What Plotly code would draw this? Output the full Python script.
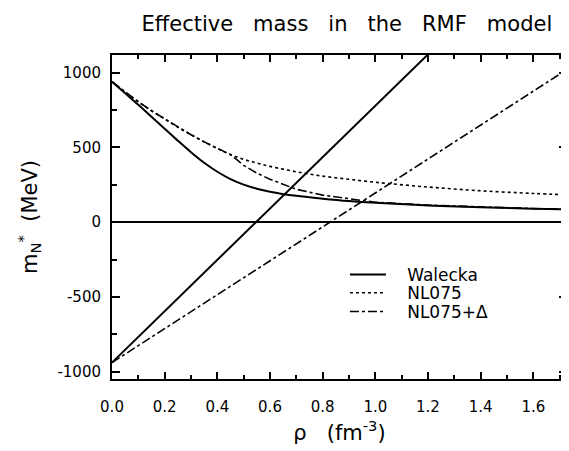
import plotly.graph_objects as go

# density grid (fm^-3)
density = [0.0, 0.05, 0.1, 0.15, 0.2, 0.25, 0.3, 0.35, 0.4, 0.45, 0.5, 0.55,
           0.6, 0.7, 0.8, 0.9, 1.0, 1.2, 1.4, 1.6, 1.72]

# effective nucleon mass (MeV)
walecka = [939, 862, 785, 705, 625, 545, 468, 397, 337, 288, 251, 224,
           204, 176, 157, 141, 129, 112, 100, 90, 85]
nl075 = [939, 870, 805, 745, 690, 635, 585, 537, 492, 452, 420, 395,
         373, 337, 308, 287, 267, 235, 210, 192, 183]
nl075_delta = [939, 870, 805, 745, 690, 635, 585, 537, 492, 452, 380, 328,
               287, 220, 181, 155, 133, 114, 101, 91, 86]

# straight lines
line_x = [0.0, 0.4, 0.8, 1.2, 1.6, 1.72]
line_walecka = [-939, -252, 435, 1122, 1809, 2015]
line_delta = [-939, -485, -32, 422, 875, 1012]

# tick labels
x_ticks = [0.0, 0.2, 0.4, 0.6, 0.8, 1.0, 1.2, 1.4, 1.6]
x_labels = ["0.0", "0.2", "0.4", "0.6", "0.8", "1.0", "1.2", "1.4", "1.6"]
y_ticks = [-1000, -500, 0, 500, 1000]
y_labels = ["-1000", "-500", "0", "500", "1000"]

font = "DejaVu Sans"
pad = "\u00a0\u00a0\u00a0"

fig = go.Figure()
fig.add_trace(go.Scatter(x=density, y=walecka, mode="lines", name=pad + "Walecka",
                         legend="legend",
                         line=dict(color="black", width=2, dash="solid", shape="spline")))
fig.add_trace(go.Scatter(x=density, y=nl075, mode="lines", name=pad + "NL075",
                         legend="legend2",
                         line=dict(color="black", width=1.6, dash="dot", shape="spline")))
fig.add_trace(go.Scatter(x=density, y=nl075_delta, mode="lines", name=pad + "NL075+Δ",
                         legend="legend3",
                         line=dict(color="black", width=1.6, dash="dashdot")))
fig.add_trace(go.Scatter(x=line_x, y=line_walecka, mode="lines", showlegend=False,
                         line=dict(color="black", width=2, dash="solid")))
fig.add_trace(go.Scatter(x=line_x, y=line_delta, mode="lines", showlegend=False,
                         line=dict(color="black", width=1.6, dash="dashdot")))

leg = dict(x=0.512, xanchor="left", yanchor="middle", bgcolor="rgba(0,0,0,0)",
           font=dict(size=17, family=font), itemwidth=36)

fig.update_layout(
    width=561, height=443,
    margin=dict(l=104, r=0, t=47, b=72),
    paper_bgcolor="white", plot_bgcolor="white",
    font=dict(family=font, color="black", size=15),
    title=dict(text="Effective   mass   in   the   RMF   model", x=0.604, xanchor="center",
               y=0.964, yanchor="middle", font=dict(family=font, size=21)),
    legend=dict(leg, y=0.321),
    legend2=dict(leg, y=0.265),
    legend3=dict(leg, y=0.207),
    showlegend=True,
)
fig.update_xaxes(
    range=[0, 1.728], showline=True, linecolor="black", linewidth=2, mirror="ticks",
    ticks="inside", ticklen=7, tickwidth=1.5, tickcolor="black",
    tickvals=x_ticks, ticktext=x_labels,
    showgrid=False, zeroline=False, ticklabelstandoff=13,
    minor=dict(dtick=0.1, tick0=0, ticks="inside", ticklen=4, tickcolor="black", showgrid=False),
    title=dict(text="ρ   (fm<sup>-3</sup>)", font=dict(size=21), standoff=10),
)
fig.update_yaxes(
    range=[-1049, 1118], showline=True, linecolor="black", linewidth=2, mirror="ticks",
    ticks="inside", ticklen=8, tickwidth=1.5, tickcolor="black",
    tickvals=y_ticks, ticktext=y_labels,
    showgrid=False, zeroline=True, zerolinecolor="black", zerolinewidth=2,
    ticklabelstandoff=6,
    minor=dict(dtick=250, tick0=0, ticks="inside", ticklen=5, tickcolor="black", showgrid=False),
    title=dict(text="m<sub>N</sub><sup>*</sup>  (MeV)", font=dict(size=21), standoff=14),
)

fig.write_html("out.html")
